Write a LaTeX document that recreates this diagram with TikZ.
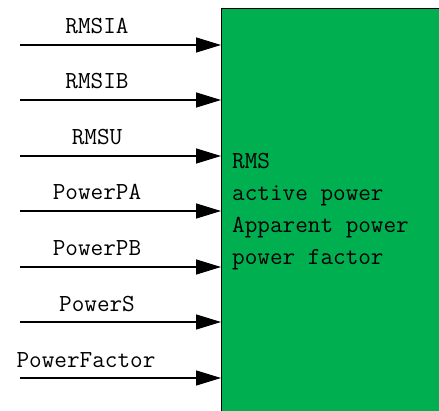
\documentclass[tikz,border=0pt]{standalone}
\usepackage{tikz}
\usetikzlibrary{arrows.meta}
\usepackage{xcolor}
\definecolor{boxgreen}{HTML}{00B050}

\begin{document}
\begin{tikzpicture}[x=1pt,y=1pt,
    sig/.style={line width=1.4pt, -{Triangle[length=25pt,width=15pt]}},
    siglabel/.style={anchor=base, inner sep=0pt, font=\ttfamily\fontsize{24.5}{32}\selectfont}]
          % Variables
          \def \startx {20}
          \def \labelx {97}

          % Frame
          \useasboundingbox (0,0) rectangle (439,410);
          \clip (0,0) rectangle (439,410);

          % Block
          \node[draw, line width=1.4pt, fill=boxgreen, anchor=north west, inner sep=0pt,
                minimum width=240pt, minimum height=430pt] (rms) at (221,402) {};
          \node[anchor=north west, align=left, inner sep=0pt,
                font=\ttfamily\fontsize{24.5}{32}\selectfont] (rmstext) at (232,257)
                {RMS\\active power\\Apparent power\\power factor};

          % Inputs
          \coordinate (inIA) at (\startx,365);
          \coordinate (inIB) at (\startx,310);
          \coordinate (inU)  at (\startx,254);
          \coordinate (inPA) at (\startx,199);
          \coordinate (inPB) at (\startx,143);
          \coordinate (inS)  at (\startx,88);
          \coordinate (inPF) at (\startx,32);

          \draw[sig] (inIA) -- (inIA -| rms.west);
          \draw[sig] (inIB) -- (inIB -| rms.west);
          \draw[sig] (inU)  -- (inU  -| rms.west);
          \draw[sig] (inPA) -- (inPA -| rms.west);
          \draw[sig] (inPB) -- (inPB -| rms.west);
          \draw[sig] (inS)  -- (inS  -| rms.west);
          \draw[sig] (inPF) -- (inPF -| rms.west);

          % Input labels
          \node[siglabel] (lIA) at (\labelx,376) {RMSIA};
          \node[siglabel] (lIB) at (\labelx,321) {RMSIB};
          \node[siglabel] (lU)  at (\labelx,265) {RMSU};
          \node[siglabel] (lPA) at (\labelx,210) {PowerPA};
          \node[siglabel] (lPB) at (\labelx,154) {PowerPB};
          \node[siglabel] (lS)  at (\labelx,99)  {PowerS};
          \node[siglabel] (lPF) at (86,43)       {PowerFactor};

        \end{tikzpicture}
\end{document}
